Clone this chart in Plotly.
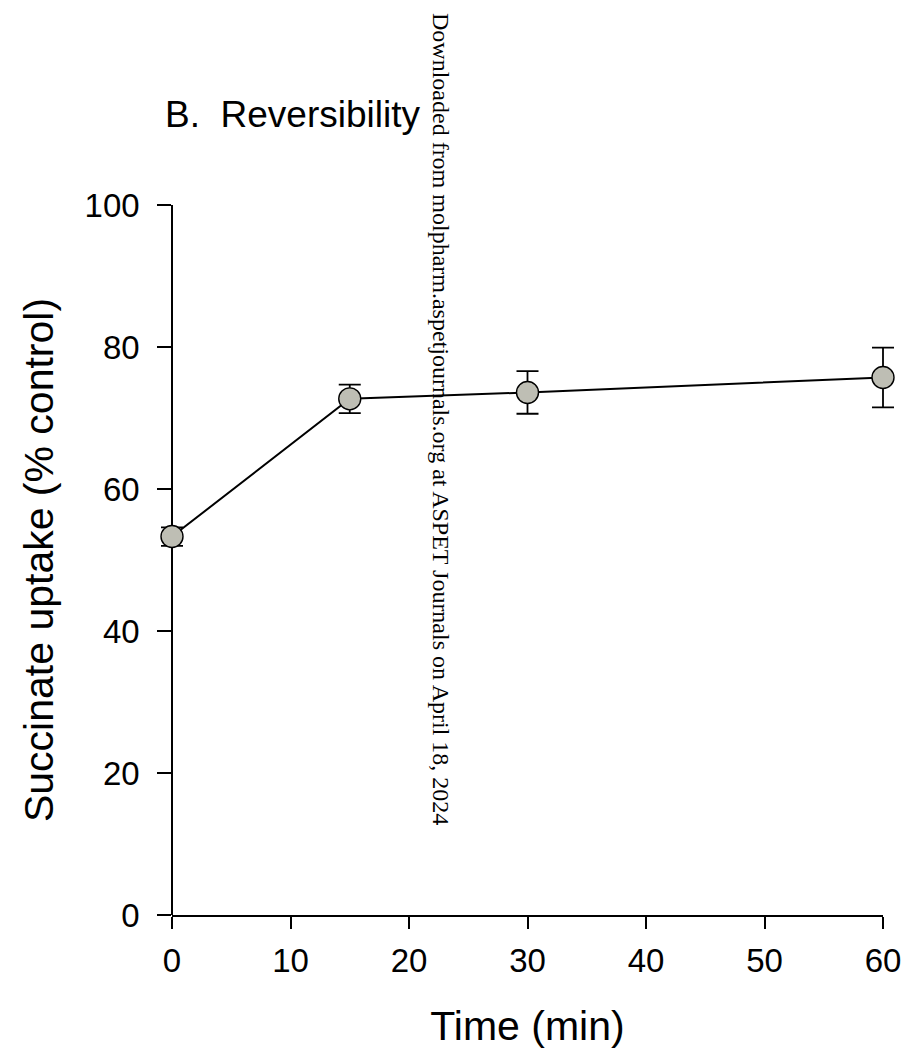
import plotly.graph_objects as go

time_min = [0, 15, 30, 60]
uptake_pct = [53.3, 72.7, 73.6, 75.7]
uptake_err = [1.3, 2.0, 3.0, 4.2]
x_ticks = [0, 10, 20, 30, 40, 50, 60]
y_ticks = [0, 20, 40, 60, 80, 100]

FONT = "Arial, Liberation Sans, sans-serif"

# pixel geometry
W, H = 908, 1053
PL, PR = 150, 903          # paper plot-area left/right (px)
AX0, AX60 = 172, 883       # visible x-axis extent (px)
PW = PR - PL
X_MIN, X_MAX = 0, 60
upp = (X_MAX - X_MIN) / (AX60 - AX0)
wide_range = [X_MIN - (AX0 - PL) * upp, X_MAX + (PR - AX60) * upp]
xdom = [(AX0 - PL) / PW, (AX60 - PL) / PW]

def px_to_paper_x(px):
    return (px - PL) / PW

fig = go.Figure()
# error bars on a wider (hidden) x-axis with identical scale, so end caps are not clipped
fig.add_trace(go.Scatter(
    x=time_min, y=uptake_pct,
    xaxis="x", yaxis="y",
    mode="markers",
    marker=dict(size=1, color="rgba(0,0,0,0)"),
    error_y=dict(type="data", array=uptake_err, visible=True,
                 color="black", thickness=1.8, width=11),
    hoverinfo="skip",
    showlegend=False,
))
# line + markers on the visible axis
fig.add_trace(go.Scatter(
    x=time_min, y=uptake_pct,
    xaxis="x2", yaxis="y",
    mode="lines+markers",
    line=dict(color="black", width=2),
    marker=dict(size=22, color="#BEBEB4", line=dict(color="black", width=1.4)),
    cliponaxis=False,
    showlegend=False,
))

fig.update_layout(
    width=W, height=H,
    margin=dict(l=PL, r=W - PR, t=205, b=138, autoexpand=False),
    paper_bgcolor="white", plot_bgcolor="rgba(0,0,0,0)",
    font=dict(family=FONT, color="black"),
    xaxis=dict(
        domain=[0, 1], range=wide_range, anchor="y",
        showline=False, showticklabels=False, ticks="", showgrid=False, zeroline=False,
    ),
    xaxis2=dict(
        domain=xdom, range=[X_MIN, X_MAX], anchor="y", tickvals=x_ticks,
        ticks="outside", ticklen=12,
        tickwidth=1.5, tickcolor="black", showline=True, linecolor="black",
        linewidth=1.5, showgrid=False, zeroline=False,
        tickfont=dict(size=33, family=FONT), ticklabelstandoff=4,
        title=dict(text="Time (min)", font=dict(size=41, family=FONT), standoff=33),
    ),
    yaxis=dict(
        anchor="free", position=xdom[0],
        range=[0, 100], tickvals=y_ticks, ticks="outside", ticklen=14,
        tickwidth=1.5, tickcolor="black", showline=True, linecolor="black",
        linewidth=1.5, showgrid=False, zeroline=False,
        tickfont=dict(size=33, family=FONT), ticklabelstandoff=11,
        title=dict(text="Succinate uptake (% control)", font=dict(size=41, family=FONT), standoff=17),
    ),
    annotations=[
        dict(text="B.  Reversibility", xref="paper", yref="paper",
             x=px_to_paper_x(163), y=(915 - 115) / 710, xanchor="left", yanchor="middle",
             showarrow=False, font=dict(size=37, family=FONT)),
        dict(text="Downloaded from molpharm.aspetjournals.org at ASPET Journals on April 18, 2024",
             xref="paper", yref="paper", x=px_to_paper_x(441), y=(915 - 419) / 710,
             xanchor="center", yanchor="middle", textangle=90,
             showarrow=False,
             font=dict(size=24, family="Liberation Serif, Times New Roman, serif")),
    ],
)

fig.write_html("out.html")
